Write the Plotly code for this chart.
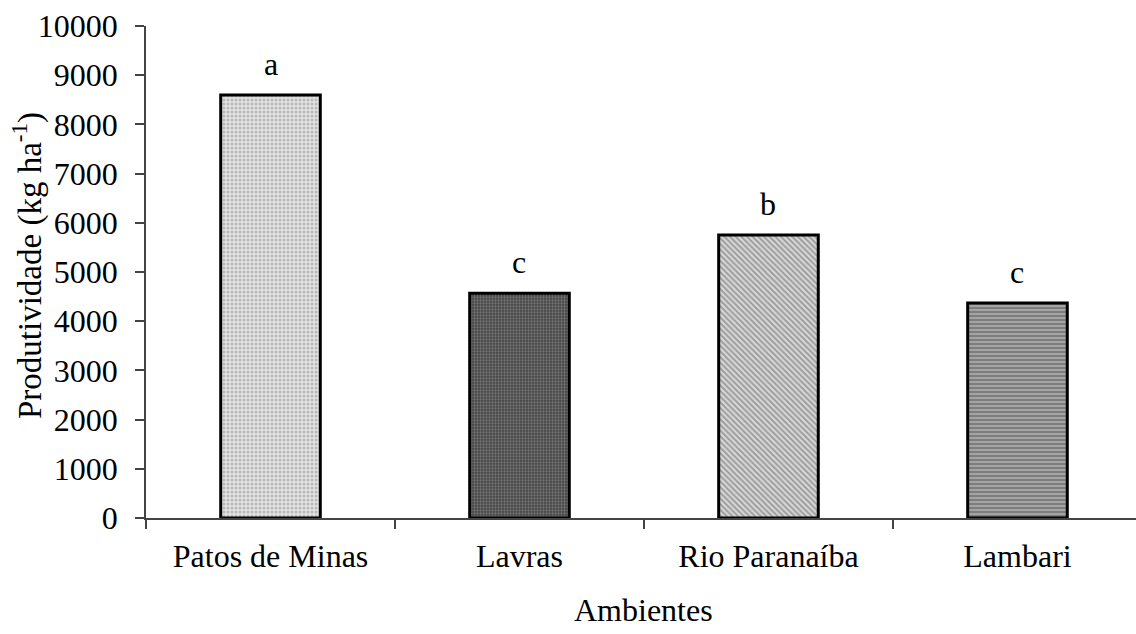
import plotly.graph_objects as go

categories = ["Patos de Minas", "Lavras", "Rio Paranaíba", "Lambari"]
values = [8600, 4570, 5750, 4370]
letters = ["a", "c", "b", "c"]
y_ticks = [0, 1000, 2000, 3000, 4000, 5000, 6000, 7000, 8000, 9000, 10000]

patterns = [
    dict(shape=".", bgcolor="#e4e4e4", fgcolor="#8a8a8a", size=4, solidity=0.45),
    dict(shape=".", bgcolor="#444444", fgcolor="#a8a8a8", size=3, solidity=0.45),
    dict(shape="\\", bgcolor="#d6d6d6", fgcolor="#5a5a5a", size=4, solidity=0.45),
    dict(shape="-", bgcolor="#a4a4a4", fgcolor="#444444", size=4, solidity=0.4),
]

FONT = "Liberation Serif, Times New Roman, serif"

fig = go.Figure()
for i, (c, v) in enumerate(zip(categories, values)):
    fig.add_trace(go.Bar(
        x=[c], y=[v], width=0.4,
        marker=dict(color=patterns[i]["bgcolor"], pattern=patterns[i],
                    line=dict(color="black", width=3)),
        showlegend=False,
    ))

for c, v, t in zip(categories, values, letters):
    fig.add_annotation(x=c, y=v, text=t, showarrow=False, yshift=31,
                       font=dict(family=FONT, size=32, color="black"))

fig.add_annotation(text="Ambientes", xref="paper", yref="paper", x=0.503, y=0,
                   yshift=-92, showarrow=False, xanchor="center", yanchor="middle",
                   font=dict(family=FONT, size=32, color="black"))
fig.add_annotation(text="Produtividade (kg ha<sup>-1</sup>)", xref="paper", yref="paper",
                   x=0, xshift=-119, y=0.5, yshift=6, textangle=-90, showarrow=False,
                   xanchor="center", yanchor="middle",
                   font=dict(family=FONT, size=33, color="black"))

fig.update_layout(
    width=1136, height=634,
    margin=dict(l=146, r=0, t=26, b=116),
    paper_bgcolor="white", plot_bgcolor="white",
    bargap=0.6,
    font=dict(family=FONT, size=32, color="black"),
    xaxis=dict(
        type="category", categoryorder="array", categoryarray=categories,
        range=[-0.5, 3.476], tickson="boundaries",
        ticks="outside", ticklen=9, tickwidth=1.5, tickcolor="#444",
        showline=True, linecolor="#444", linewidth=1.5,
        showgrid=False, zeroline=False,
        ticklabelstandoff=9,
        tickfont=dict(family=FONT, size=32, color="black"),
    ),
    yaxis=dict(
        range=[0, 10000], tickmode="array", tickvals=y_ticks,
        ticktext=[str(t) for t in y_ticks],
        ticks="outside", ticklen=9, tickwidth=1.5, tickcolor="#444",
        showline=True, linecolor="#444", linewidth=1.5,
        showgrid=False, zeroline=False,
        ticklabelstandoff=11,
        tickfont=dict(family=FONT, size=32, color="black"),
    ),
)

fig.write_html("out.html")
